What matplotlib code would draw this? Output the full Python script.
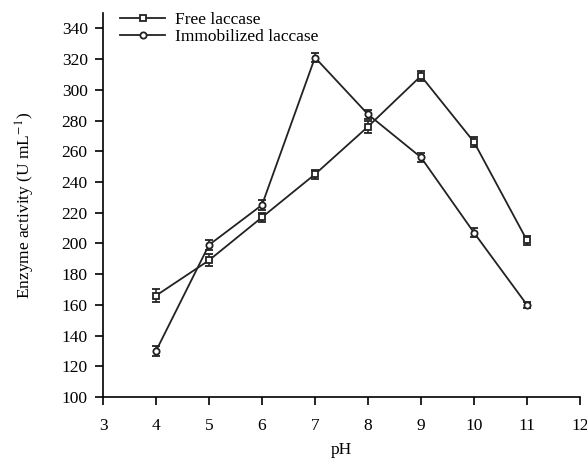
import matplotlib
matplotlib.use('Agg')
import matplotlib.pyplot as plt
from matplotlib.lines import Line2D

plt.rcParams['font.family'] = ['Liberation Serif', 'DejaVu Serif']
plt.rcParams['mathtext.fontset'] = 'stix'

# Data
ph = [4, 5, 6, 7, 8, 9, 10, 11]
free_laccase = [166, 189, 217, 245, 276, 309, 266, 202]
free_err = [4, 4, 3, 3, 4, 3, 3, 3]
immob_laccase = [130, 199, 225, 321, 284, 256, 207, 160]
immob_err = [3, 3, 3, 3, 3, 3, 3, 2]

fig = plt.figure(figsize=(5.87, 4.63), dpi=100)
ax = fig.add_axes([0.1755, 0.1425, 0.8125, 0.8295])

style = dict(color='#222222', lw=1.3, ms=4.5, mfc='white', mec='#222222',
             mew=1.3, capsize=3, elinewidth=1.1, capthick=1.2)
ax.errorbar(ph, free_laccase, yerr=free_err, marker='s', **style)
ax.errorbar(ph, immob_laccase, yerr=immob_err, marker='o', **style)

ax.set_xlim(3, 12)
ax.set_ylim(100, 350)
ax.set_xticks(range(3, 13))
ax.set_yticks(range(100, 341, 20))
ax.spines['top'].set_visible(False)
ax.spines['right'].set_visible(False)
ax.spines['left'].set_linewidth(1.2)
ax.spines['bottom'].set_linewidth(1.2)
ax.tick_params(direction='out', length=6, width=1.2, labelsize=12.5)
ax.tick_params(axis='x', pad=9)
ax.tick_params(axis='y', pad=5)

ax.set_xlabel('pH', fontsize=12.5, labelpad=6)
ax.set_ylabel(r'Enzyme activity (U mL$^{-1}$)', fontsize=12.5, labelpad=18)

handles = [
    Line2D([], [], color='#222222', lw=1.3, marker='s', ms=4.5, mfc='white', mew=1.3),
    Line2D([], [], color='#222222', lw=1.3, marker='o', ms=4.5, mfc='white', mew=1.3),
]
ax.legend(handles, ['Free laccase', 'Immobilized laccase'], loc='upper left',
          bbox_to_anchor=(0.01, 1.035), frameon=False, fontsize=12.5,
          handlelength=2.6, handletextpad=0.6, labelspacing=0.05,
          borderaxespad=0.3)

plt.savefig('out.png', dpi=100)
